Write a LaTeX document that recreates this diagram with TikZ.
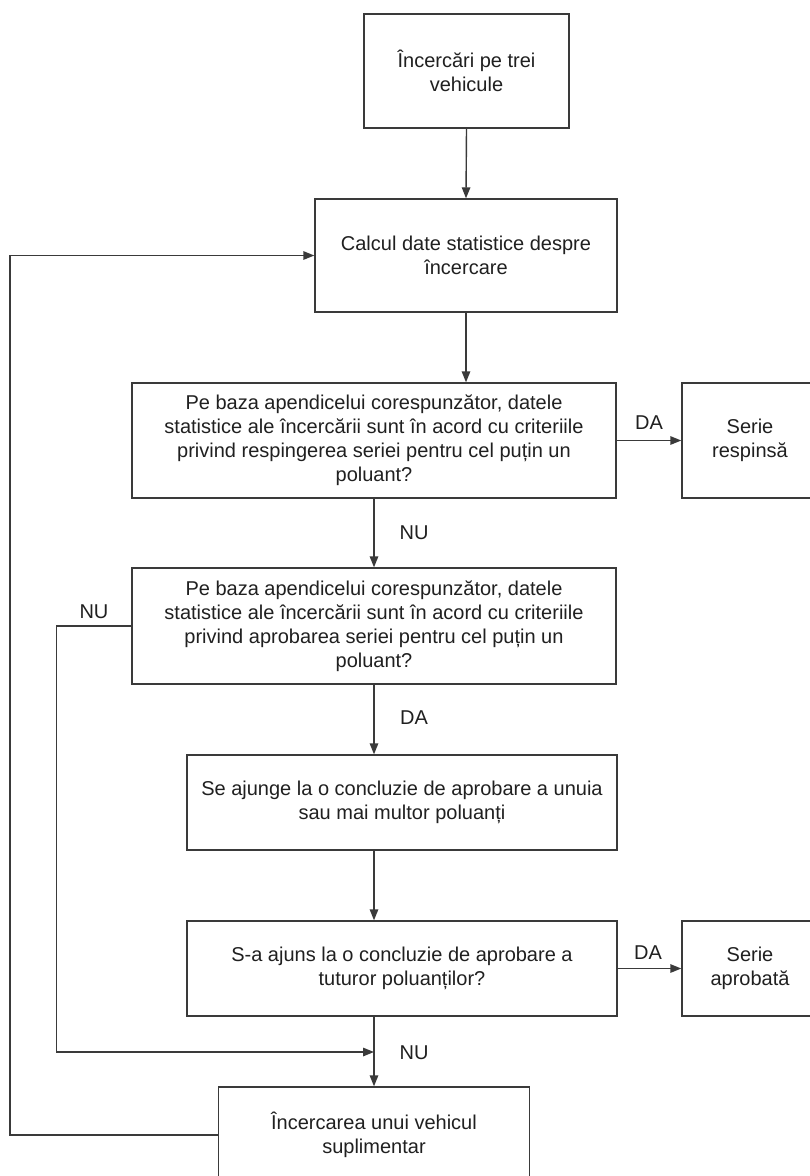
\documentclass[tikz,border=0pt]{standalone}
\usepackage{fontspec}
\setmainfont{Liberation Sans}
\usetikzlibrary{arrows.meta}
\definecolor{linec}{HTML}{3A3A3A}
\definecolor{textc}{HTML}{202020}
\tikzset{
  boxnode/.style={draw=linec, line width=1.4pt, align=center, inner sep=0pt,
    text=textc, font=\fontsize{20}{24}\selectfont},
  conn/.style={draw=linec, line width=1.4pt, -{Triangle[length=11pt,width=8.5pt]}},
  lbl/.style={text=textc, font=\fontsize{20}{24}\selectfont, inner sep=0pt}
}
\begin{document}
\begin{tikzpicture}[x=1pt,y=-1pt]
\useasboundingbox (0,0) rectangle (810,1176);
\clip (0,0) rectangle (810,1176);
\fill[white] (0,0) rectangle (810,1176);
\coordinate (axis) at (374,0);
\node[boxnode, minimum width=205pt, minimum height=114pt] (b1) at (466.5,71) {Încercări pe trei\\vehicule};
\node[boxnode, minimum width=302pt, minimum height=113pt] (b2) at (466,255.5) {Calcul date statistice despre\\încercare};
\node[boxnode, minimum width=484pt, minimum height=115pt] (b3) at (374,440.5) {Pe baza apendicelui corespunzător, datele\\statistice ale încercării sunt în acord cu criteriile\\privind respingerea seriei pentru cel puțin un\\poluant?};
\node[boxnode, minimum width=136pt, minimum height=115pt] (sr) at (750,440.5) {Serie\\respinsă};
\node[boxnode, minimum width=484pt, minimum height=116pt] (b4) at (374,626) {Pe baza apendicelui corespunzător, datele\\statistice ale încercării sunt în acord cu criteriile\\privind aprobarea seriei pentru cel puțin un\\poluant?};
\node[boxnode, minimum width=430pt, minimum height=95pt] (b5) at (402,802.5) {Se ajunge la o concluzie de aprobare a unuia\\sau mai multor poluanți};
\node[boxnode, minimum width=430pt, minimum height=95pt] (b6) at (402,968.5) {S-a ajuns la o concluzie de aprobare a\\tuturor poluanților?};
\node[boxnode, minimum width=136pt, minimum height=95pt] (sa) at (750,968.5) {Serie\\aprobată};
\node[boxnode, minimum width=311pt, minimum height=96pt] (b7) at (374,1135) {Încercarea unui vehicul\\suplimentar};
\coordinate (join) at (374,1052);
% connectors
\draw[conn] (b1.south) -- (b2.north);
\draw[conn] (b2.south) -- (b2.south |- b3.north);
\draw[conn] (b3.east) -- (sr.west);
\draw[conn] (b3.south) -- (b4.north);
\draw[conn] (b4.south) -- (axis |- b5.north);
\draw[conn] (axis |- b5.south) -- (axis |- b6.north);
\draw[conn] (b6.east) -- (sa.west);
\draw[conn] (axis |- b6.south) -- (b7.north);
\draw[conn] (b4.west) -- ++(-75,0) |- (join);
\draw[conn] (b7.west) -- ++(-208,0) |- (b2.west);
% labels
\node[lbl] (l1) at (649,423) {DA};
\node[lbl] (l2) at (414,533) {NU};
\node[lbl] (l3) at (414,718) {DA};
\node[lbl] (l4) at (648,953) {DA};
\node[lbl] (l5) at (414,1053) {NU};
\node[lbl] (l6) at (94,612) {NU};
\end{tikzpicture}
\end{document}
